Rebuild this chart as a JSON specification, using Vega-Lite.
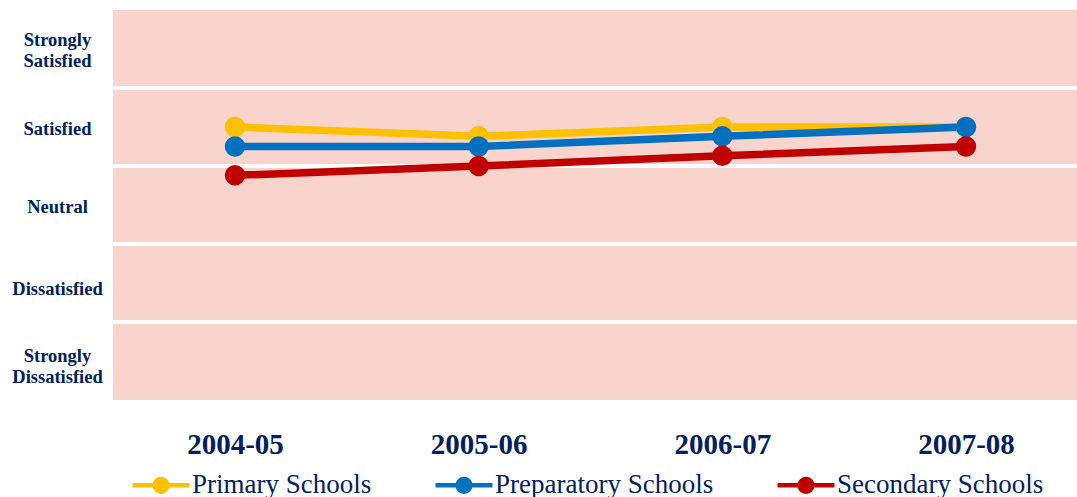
{
  "$schema": "https://vega.github.io/schema/vega-lite/v6.json",
  "width": 964,
  "height": 390,
  "autosize": "none",
  "padding": {"left": 113, "top": 10, "right": 0, "bottom": 97},
  "background": "white",
  "config": {
    "view": {"fill": "#F9D4CC", "stroke": null},
    "font": "Liberation Serif"
  },
  "datasets": {
    "scores": [
      {"year": "2004-05", "school": "Primary Schools", "score": 4.0},
      {"year": "2005-06", "school": "Primary Schools", "score": 3.88},
      {"year": "2006-07", "school": "Primary Schools", "score": 4.0},
      {"year": "2007-08", "school": "Primary Schools", "score": 4.0},
      {"year": "2004-05", "school": "Preparatory Schools", "score": 3.75},
      {"year": "2005-06", "school": "Preparatory Schools", "score": 3.75},
      {"year": "2006-07", "school": "Preparatory Schools", "score": 3.88},
      {"year": "2007-08", "school": "Preparatory Schools", "score": 4.0},
      {"year": "2004-05", "school": "Secondary Schools", "score": 3.38},
      {"year": "2005-06", "school": "Secondary Schools", "score": 3.5},
      {"year": "2006-07", "school": "Secondary Schools", "score": 3.63},
      {"year": "2007-08", "school": "Secondary Schools", "score": 3.75}
    ],
    "bounds": [
      {"b": 1.5}, {"b": 2.5}, {"b": 3.5}, {"b": 4.5}
    ]
  },
  "layer": [
    {
      "data": {"name": "bounds"},
      "mark": {"type": "rule", "color": "white", "strokeWidth": 4},
      "encoding": {
        "y": {"field": "b", "type": "quantitative", "scale": {"domain": [0.5, 5.5], "nice": false, "zero": false}}
      }
    },
    {
      "data": {"name": "scores"},
      "mark": {"type": "line", "strokeWidth": 7.5, "point": {"filled": true, "size": 420, "opacity": 1}},
      "encoding": {
        "x": {
          "field": "year", "type": "ordinal",
          "scale": {"type": "point", "range": [122, 853], "padding": 0},
          "axis": {
            "title": null, "domain": false, "ticks": false, "grid": false,
            "labelAngle": 0, "labelFont": "Liberation Serif", "labelFontWeight": "bold",
            "labelFontSize": 29, "labelColor": "#002060", "labelPadding": 30
          }
        },
        "y": {
          "field": "score", "type": "quantitative",
          "scale": {"domain": [0.5, 5.5], "nice": false, "zero": false},
          "axis": {
            "title": null, "domain": false, "ticks": false, "grid": false,
            "values": [1, 2, 3, 4, 5],
            "labelExpr": "datum.value == 5 ? ['Strongly', 'Satisfied'] : datum.value == 4 ? 'Satisfied' : datum.value == 3 ? 'Neutral' : datum.value == 2 ? 'Dissatisfied' : ['Strongly', 'Dissatisfied']",
            "labelAlign": "center", "labelBaseline": "middle", "labelPadding": 56,
            "labelOffset": {"condition": [{"test": "datum.value == 5", "value": -10}, {"test": "datum.value == 1", "value": -6}, {"test": "datum.value == 2", "value": 5}], "value": 1},
            "labelFont": "Liberation Serif", "labelFontWeight": "bold", "labelFontSize": 18.5,
            "labelLineHeight": 21, "labelColor": "#002060"
          }
        },
        "color": {
          "field": "school", "type": "nominal",
          "scale": {
            "domain": ["Primary Schools", "Preparatory Schools", "Secondary Schools"],
            "range": ["#FFC000", "#0070C0", "#C00000"]
          },
          "legend": {
            "title": null, "orient": "none", "direction": "horizontal",
            "legendX": 17, "legendY": 444,
            "labelFont": "Liberation Serif", "labelFontSize": 27, "labelColor": "#002060",
            "labelOffset": 0, "labelLimit": 400, "columnPadding": 54,
            "symbolType": "M-1,0L1,0M0.22,0A0.22,0.22,0,1,1,-0.22,0A0.22,0.22,0,1,1,0.22,0Z",
            "symbolSize": 3249, "symbolStrokeWidth": 4.5,
            "encode": {
              "symbols": {
                "update": {
                  "fill": {"scale": "color", "field": "value"},
                  "stroke": {"scale": "color", "field": "value"},
                  "opacity": {"value": 1}
                }
              }
            }
          }
        }
      }
    }
  ]
}
